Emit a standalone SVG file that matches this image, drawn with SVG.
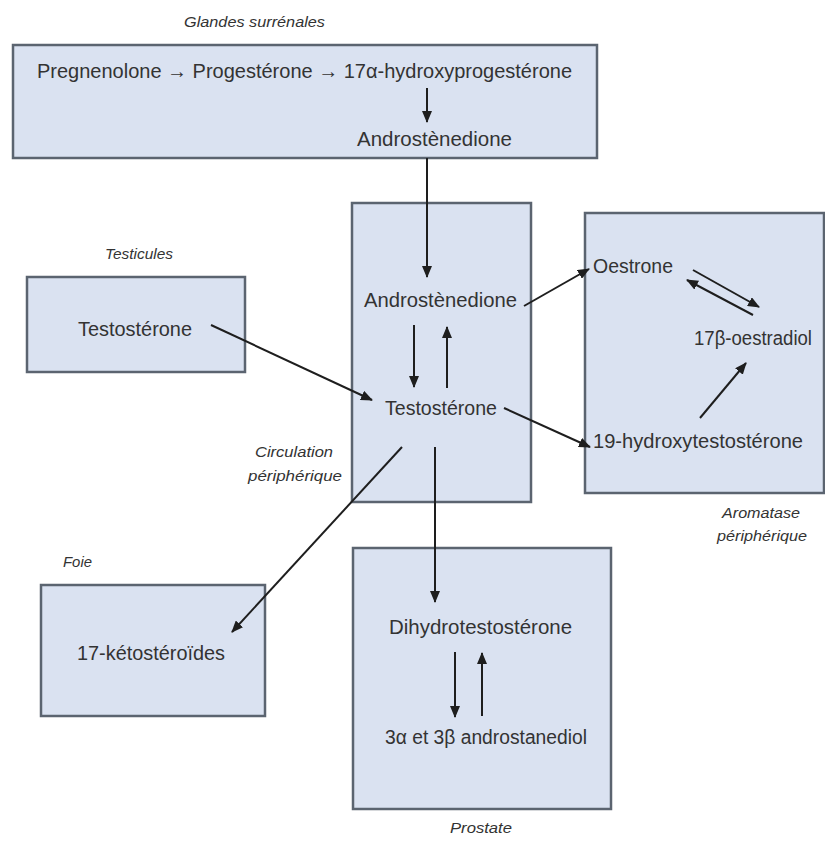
<svg xmlns="http://www.w3.org/2000/svg" width="825" height="842" viewBox="0 0 825 842">
<style>
.box{fill:#dae2f1;stroke:#5b6470;stroke-width:2.5}
.t{font-family:"Liberation Sans",Arial,sans-serif;font-size:20px;fill:#333333}
.l{font-family:"Liberation Sans",Arial,sans-serif;font-size:14px;font-style:italic;fill:#333333}
.c{stroke:#1e1e1e;stroke-width:2;fill:none;marker-end:url(#ah)}
</style>
<defs>
<marker id="ah" markerUnits="userSpaceOnUse" markerWidth="12" markerHeight="10" refX="11" refY="5" orient="auto">
<path d="M0,0 L12,5 L0,10 Z" fill="#1e1e1e"/>
</marker>
</defs>
<rect width="825" height="842" fill="#ffffff"/>

<g id="surrenales">
<rect class="box" x="13" y="45" width="584" height="113"/>
<text class="l" x="184" y="27" textLength="141" lengthAdjust="spacingAndGlyphs">Glandes surrénales</text>
<text class="t" x="37" y="78" textLength="535" lengthAdjust="spacingAndGlyphs">Pregnenolone → Progestérone → 17α-hydroxyprogestérone</text>
<text class="t" x="357" y="146" textLength="155" lengthAdjust="spacingAndGlyphs">Androstènedione</text>
</g>

<g id="circulation">
<rect class="box" x="352" y="203" width="179" height="299"/>
<text class="t" x="364" y="307" textLength="153" lengthAdjust="spacingAndGlyphs">Androstènedione</text>
<text class="t" x="385" y="415" textLength="112" lengthAdjust="spacingAndGlyphs">Testostérone</text>
<text class="l" x="255" y="457" textLength="78" lengthAdjust="spacingAndGlyphs">Circulation</text>
<text class="l" x="248" y="481" textLength="94" lengthAdjust="spacingAndGlyphs">périphérique</text>
</g>

<g id="aromatase">
<rect class="box" x="585" y="213" width="239" height="280"/>
<text class="t" x="694" y="345" textLength="118" lengthAdjust="spacingAndGlyphs">17β-oestradiol</text>
<text class="t" x="593" y="273" textLength="80" lengthAdjust="spacingAndGlyphs">Oestrone</text>
<text class="t" x="593" y="448" textLength="210" lengthAdjust="spacingAndGlyphs">19-hydroxytestostérone</text>
<text class="l" x="722" y="518" textLength="78" lengthAdjust="spacingAndGlyphs">Aromatase</text>
<text class="l" x="717" y="541" textLength="90" lengthAdjust="spacingAndGlyphs">périphérique</text>
</g>

<g id="testicules">
<rect class="box" x="27" y="277" width="218" height="95"/>
<text class="l" x="105" y="259" textLength="68" lengthAdjust="spacingAndGlyphs">Testicules</text>
<text class="t" x="78" y="336" textLength="114" lengthAdjust="spacingAndGlyphs">Testostérone</text>
</g>

<g id="foie">
<rect class="box" x="41" y="585" width="224" height="131"/>
<text class="l" x="63" y="567" textLength="29" lengthAdjust="spacingAndGlyphs">Foie</text>
<text class="t" x="77" y="660" textLength="148" lengthAdjust="spacingAndGlyphs">17-kétostéroïdes</text>
</g>

<g id="prostate">
<rect class="box" x="353" y="548" width="258" height="261"/>
<text class="t" x="389" y="634" textLength="183" lengthAdjust="spacingAndGlyphs">Dihydrotestostérone</text>
<text class="t" x="385" y="744" textLength="202" lengthAdjust="spacingAndGlyphs">3α et 3β androstanediol</text>
<text class="l" x="450" y="833" textLength="62" lengthAdjust="spacingAndGlyphs">Prostate</text>
</g>

<g id="connectors">
<line class="c" x1="427" y1="88" x2="427" y2="122"/>
<line class="c" x1="427" y1="158" x2="427" y2="277"/>
<line class="c" x1="414" y1="325" x2="414" y2="387"/>
<line class="c" x1="447" y1="388" x2="447" y2="327"/>
<line class="c" x1="524" y1="306" x2="589" y2="269"/>
<line class="c" x1="504" y1="408" x2="590" y2="447"/>
<line class="c" x1="211" y1="325" x2="372" y2="400"/>
<line class="c" x1="693" y1="270" x2="759" y2="307"/>
<line class="c" x1="753" y1="315" x2="687" y2="280"/>
<line class="c" x1="700" y1="418" x2="746" y2="363"/>
<line class="c" x1="402" y1="447" x2="232" y2="632"/>
<line class="c" x1="435" y1="447" x2="435" y2="602"/>
<line class="c" x1="455" y1="652" x2="455" y2="717"/>
<line class="c" x1="482" y1="716" x2="482" y2="653"/>
</g>
</svg>
